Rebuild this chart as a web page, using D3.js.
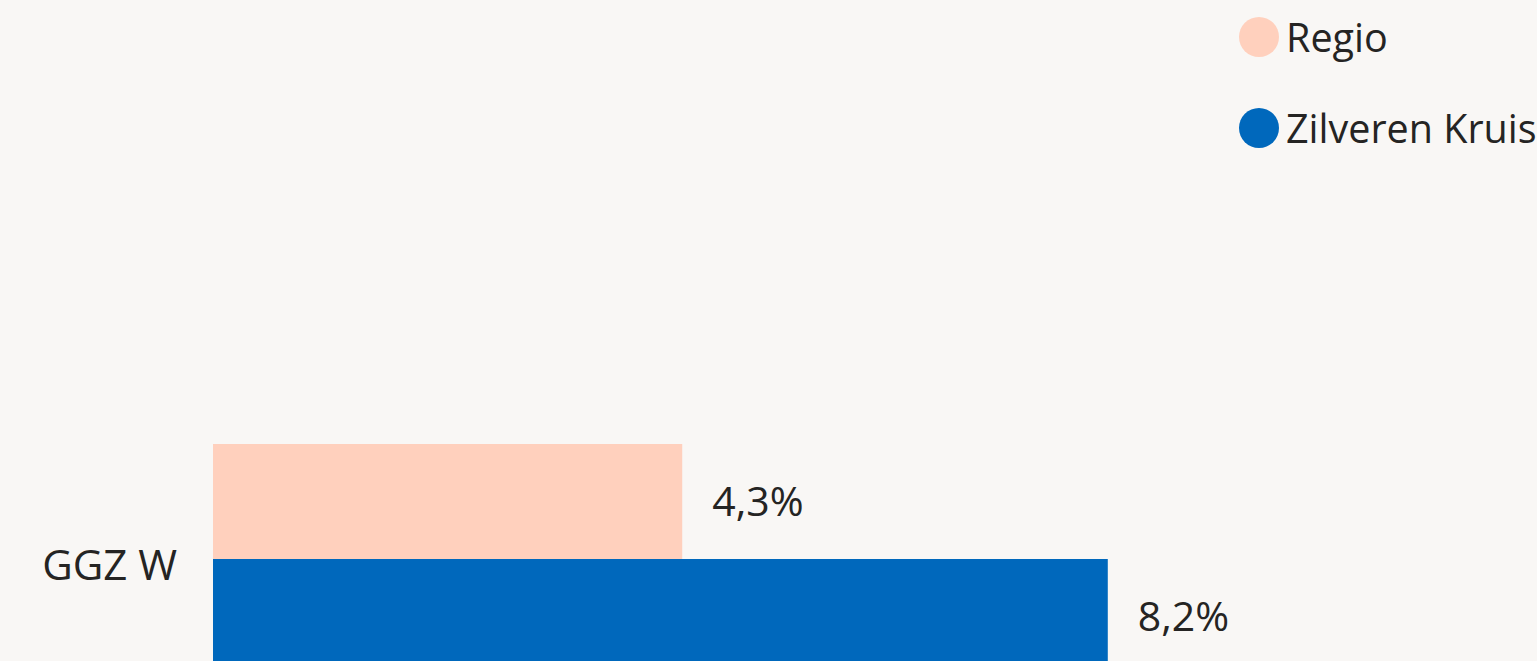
<!DOCTYPE html>
<html>
<head>
<meta charset="utf-8">
<script src="https://cdn.jsdelivr.net/npm/d3@7"></script>
<style>
  html, body { margin: 0; padding: 0; background: #f9f7f5; overflow: hidden; }
  svg { display: block; font-family: "Open Sans", "Noto Sans", sans-serif; }
</style>
</head>
<body>
<div id="chart"></div>
<script>
// data
var categories = ["GGZ W"];
var seriesNames = ["Regio", "Zilveren Kruis"];
var seriesColors = ["#ffd0bd", "#0068bc"];
var regioValues = [4.3];
var zkValues = [8.2];

var width = 1537, height = 661;
var margin = {top: 444, left: 213};

var svg = d3.select("#chart").append("svg")
    .attr("width", width)
    .attr("height", height);

var x = d3.scaleLinear()
    .domain([0, 12.5])
    .range([margin.left, margin.left + 1364]);

var y0 = d3.scaleBand()
    .domain(categories)
    .range([margin.top, margin.top + 230])
    .padding(0);

var y1 = d3.scaleBand()
    .domain(seriesNames)
    .range([0, y0.bandwidth()]);

var color = d3.scaleOrdinal().domain(seriesNames).range(seriesColors);

var rows = categories.map(function(c, i){
    return {cat: c, mets: [
        {name: "Regio", value: regioValues[i]},
        {name: "Zilveren Kruis", value: zkValues[i]}
    ]};
});

var fmt = function(v){ return d3.format(".1f")(v).replace(".", ",") + "%"; };

var groups = svg.selectAll(".group")
    .data(rows)
    .enter().append("g")
    .attr("class", "group")
    .attr("transform", function(d){ return "translate(0," + y0(d.cat) + ")"; });

groups.selectAll("rect")
    .data(function(d){ return d.mets; })
    .enter().append("rect")
    .attr("x", x(0))
    .attr("y", function(d){ return y1(d.name); })
    .attr("width", function(d){ return x(d.value) - x(0); })
    .attr("height", y1.bandwidth())
    .attr("fill", function(d){ return color(d.name); });

groups.selectAll(".val")
    .data(function(d){ return d.mets; })
    .enter().append("text")
    .attr("class", "val")
    .attr("x", function(d){ return x(d.value) + 30; })
    .attr("y", function(d){ return y1(d.name) + y1.bandwidth() / 2; })
    .attr("dy", "0.36em")
    .attr("font-size", 41)
    .attr("fill", "#252423")
    .text(function(d){ return fmt(d.value); });

// category axis label
var yAxis = d3.axisLeft(y0).tickSize(0).tickPadding(36);
var ax = svg.append("g")
    .attr("transform", "translate(" + x(0) + ",0)")
    .call(yAxis);
ax.select(".domain").remove();
ax.selectAll(".tick text")
    .attr("font-size", 42)
    .attr("font-family", "'Open Sans', 'Noto Sans', sans-serif")
    .attr("fill", "#252423")
    .attr("dy", "0.5em");

// legend
var legend = svg.selectAll(".legend")
    .data(seriesNames)
    .enter().append("g")
    .attr("class", "legend")
    .attr("transform", function(d, i){ return "translate(1259," + (37 + i * 91) + ")"; });

legend.append("circle")
    .attr("r", 20)
    .attr("fill", function(d){ return color(d); });

legend.append("text")
    .attr("x", 27)
    .attr("dy", "0.38em")
    .attr("font-size", 39.5)
    .attr("fill", "#252423")
    .text(function(d){ return d; });
</script>
</body>
</html>
